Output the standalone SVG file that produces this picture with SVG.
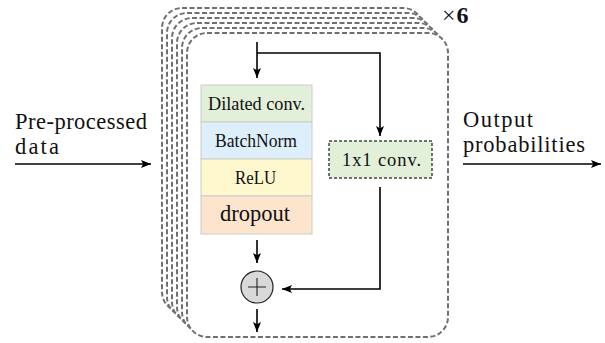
<svg xmlns="http://www.w3.org/2000/svg" xmlns:xlink="http://www.w3.org/1999/xlink" width="605" height="343" viewBox="0 0 605 343">
<style>
.layer{fill:#fff;stroke:#707070;stroke-width:2;stroke-dasharray:5 2.5}
.blk{stroke:#ccc;stroke-width:1}
.t{font-family:"Liberation Serif","DejaVu Serif",serif;fill:#111}
.bt{font-size:18.5px}
.lb{font-size:22.5px}
.line{fill:none;stroke:#000;stroke-width:1.6}
</style>
<defs>
<marker id="ah" viewBox="0 0 10 8" refX="10" refY="4" markerWidth="11" markerHeight="8" markerUnits="userSpaceOnUse" orient="auto">
<path d="M0,0 L10,4 L0,8 L2.2,4 Z" fill="#000"/>
</marker>
<rect id="lay" x="187" y="33" width="261" height="304" rx="20" ry="20"/>
</defs>
<rect width="605" height="343" fill="#fff"/>
<g id="stack">
<use xlink:href="#lay" class="layer" transform="translate(-25,-25)"/>
<use xlink:href="#lay" class="layer" transform="translate(-20,-20)"/>
<use xlink:href="#lay" class="layer" transform="translate(-15,-15)"/>
<use xlink:href="#lay" class="layer" transform="translate(-10,-10)"/>
<use xlink:href="#lay" class="layer" transform="translate(-5,-5)"/>
<use xlink:href="#lay" class="layer"/>
</g>
<text class="t" x="442" y="23" font-size="24">×<tspan font-weight="bold" dx="1">6</tspan></text>
<g id="input-label">
<text class="t lb" x="15" y="129" textLength="132" lengthAdjust="spacing">Pre-processed</text>
<text class="t lb" x="15" y="154" textLength="44" lengthAdjust="spacing">data</text>
</g>
<g id="output-label">
<text class="t lb" x="463" y="127" textLength="70" lengthAdjust="spacing">Output</text>
<text class="t lb" x="463" y="152" textLength="122" lengthAdjust="spacing">probabilities</text>
</g>
<g id="dilated-conv">
<rect class="blk" x="201" y="85" width="111" height="37" fill="#e2efd9"/>
<text class="t bt" x="208" y="109.5" textLength="97" lengthAdjust="spacingAndGlyphs">Dilated conv.</text>
</g>
<g id="batchnorm">
<rect class="blk" x="201" y="122" width="111" height="37" fill="#ddeffb"/>
<text class="t bt" x="215" y="146.5" textLength="82" lengthAdjust="spacingAndGlyphs">BatchNorm</text>
</g>
<g id="relu">
<rect class="blk" x="201" y="159" width="111" height="37" fill="#fff8cf"/>
<text class="t bt" x="235" y="183.5" textLength="41" lengthAdjust="spacingAndGlyphs">ReLU</text>
</g>
<g id="dropout">
<rect class="blk" x="201" y="196" width="111" height="38" fill="#fde4cc"/>
<text class="t" x="220" y="221" font-size="22.5" textLength="70" lengthAdjust="spacingAndGlyphs">dropout</text>
</g>
<g id="conv1x1">
<rect x="329" y="141" width="103" height="37" fill="#e2efd9" stroke="#444" stroke-width="1.5" stroke-dasharray="3 2"/>
<text class="t bt" x="342" y="165.5" textLength="79" lengthAdjust="spacing">1x1 conv.</text>
</g>
<g id="sum">
<circle cx="257" cy="287" r="16" fill="#d9d9d9" stroke="#222" stroke-width="1.2"/>
<path d="M248,287 H266 M257,278 V296" stroke="#222" stroke-width="1.1" fill="none"/>
</g>
<g id="connectors">
<line class="line" x1="15" y1="164" x2="151" y2="164" marker-end="url(#ah)"/>
<line class="line" x1="463" y1="164" x2="601" y2="164" marker-end="url(#ah)"/>
<line class="line" x1="257" y1="42" x2="257" y2="78" marker-end="url(#ah)"/>
<polyline class="line" points="257,53 380,53 380,136" marker-end="url(#ah)"/>
<polyline class="line" points="380,187 380,289 282,289" marker-end="url(#ah)"/>
<line class="line" x1="257" y1="240" x2="257" y2="263" marker-end="url(#ah)"/>
<line class="line" x1="257" y1="309" x2="257" y2="332" marker-end="url(#ah)"/>
</g>
</svg>
